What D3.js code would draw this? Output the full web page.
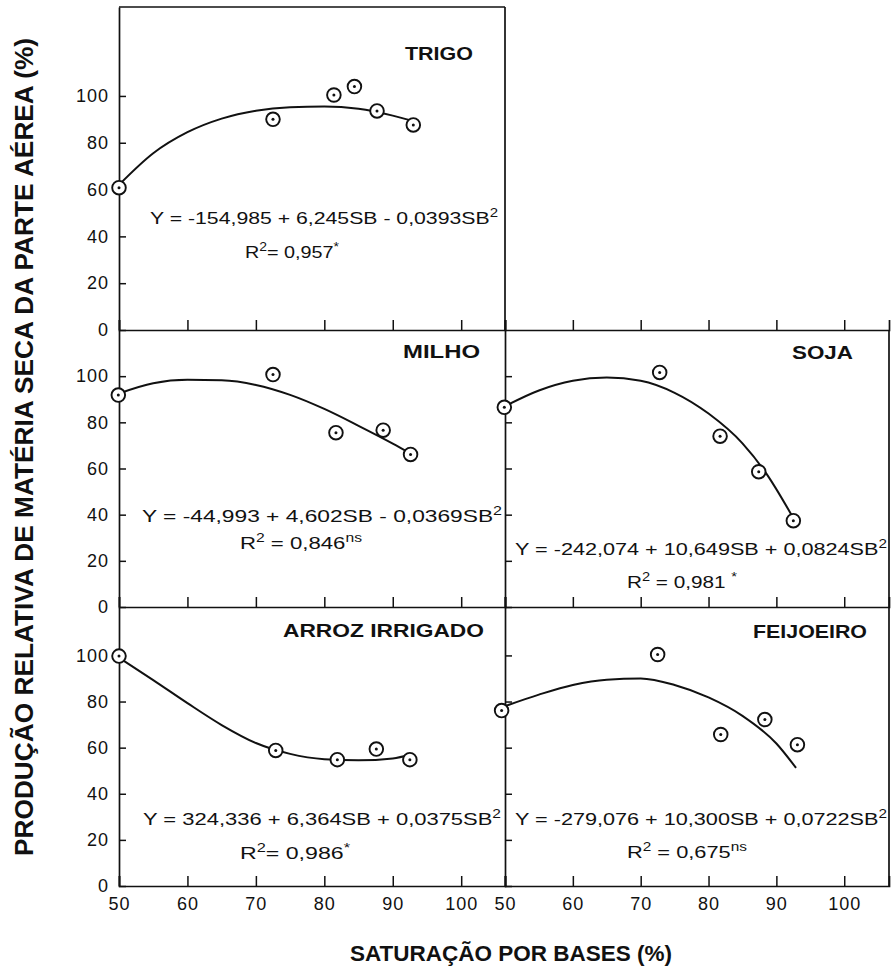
<!DOCTYPE html>
<html>
<head>
<meta charset="utf-8">
<script src="https://cdn.jsdelivr.net/npm/d3@7"></script>
<style>
  body { margin: 0; background: #fff; }
  svg { display: block; }
  text { font-family: "Liberation Sans", Arial, sans-serif; fill: #111; }
</style>
</head>
<body>
<svg id="chart" width="894" height="968"></svg>
<script>
// valores: saturação por bases (SB, %) e produção relativa (%)
const trigoSB = [50, 72.5, 81.4, 84.4, 87.7, 93.0]
const trigoY  = [60.8, 90.0, 100.4, 104.0, 93.6, 87.6]
const milhoSB = [49.9, 72.5, 81.7, 88.6, 92.6]
const milhoY  = [91.8, 100.7, 75.5, 76.6, 66.1]
const sojaSB  = [49.9, 72.8, 81.7, 87.4, 92.5]
const sojaY   = [86.5, 101.6, 74.0, 58.6, 37.4]
const arrozSB = [50, 72.9, 81.9, 87.6, 92.5]
const arrozY  = [99.7, 58.8, 54.8, 59.4, 54.8]
const feijSB  = [49.5, 72.5, 81.8, 88.3, 93.1]
const feijY   = [76.1, 100.4, 65.7, 72.2, 61.3]

const trigoFitSB = [50, 55, 60, 65, 70, 75, 80, 85, 90, 93]
const trigoFitY  = [62, 75.5, 84.5, 90.3, 93.7, 95.2, 95.5, 94.5, 91.6, 89.3]
const milhoFitSB = [50, 55, 60, 65, 70, 75, 80, 85, 90, 92.6]
const milhoFitY  = [92.5, 96.9, 98.4, 98.2, 96.2, 91.9, 85.8, 78.5, 70.8, 66.5]
const sojaFitSB  = [50, 55, 60, 65, 70, 75, 80, 85, 88.5, 92.5]
const sojaFitY   = [87, 93.8, 98, 99.4, 98, 92.8, 83.8, 70.9, 57.9, 38.5]
const arrozFitSB = [50, 55, 60, 65, 70, 75, 80, 85, 90, 92.6]
const arrozFitY  = [99, 89.3, 79.3, 69.8, 62, 57.3, 55, 54.5, 55.3, 57]
const feijFitSB  = [50, 55, 60, 65, 70, 75, 80, 85, 90, 92.9]
const feijFitY   = [78, 83, 87.2, 89.5, 90, 87.2, 81.8, 73.8, 61.8, 51.2]

const xTicks = [50, 60, 70, 80, 90, 100]
const yTicks = [0, 20, 40, 60, 80, 100]

const svg = d3.select('#chart')
const ink = '#111'

const xL = d3.scaleLinear().domain([50, 106.4]).range([119, 505])
const xR = d3.scaleLinear().domain([50, 106.6]).range([505, 889])
const yTop = d3.scaleLinear().domain([0, 138]).range([330, 7])
const yMid = d3.scaleLinear().domain([0, 120]).range([607, 330])
const yBot = d3.scaleLinear().domain([0, 121]).range([886, 607])

function styleAxis(g) {
  g.attr('font-family', null).attr('font-size', null)
  g.select('.domain').attr('stroke', ink).attr('stroke-width', 1.7)
  g.selectAll('.tick line').attr('stroke', ink).attr('stroke-width', 1.5)
  g.selectAll('.tick text').attr('fill', ink).style('font-size', '18px').style('letter-spacing', '1px')
}

function yAxis(scale, x, labels) {
  svg.append('g').attr('transform', `translate(${x},0)`)
    .call(d3.axisLeft(scale).tickValues(yTicks).tickSizeInner(-7).tickSizeOuter(0)
      .tickPadding(10).tickFormat(labels ? d3.format('d') : ''))
    .call(styleAxis)
}

function xAxis(scale, y, labels) {
  svg.append('g').attr('transform', `translate(0,${y})`)
    .call(d3.axisBottom(scale).tickValues(xTicks).tickSizeInner(-10).tickSizeOuter(-10)
      .tickPadding(11).tickFormat(labels ? d3.format('d') : ''))
    .call(styleAxis)
}

// moldura que sobra
const frame = [[119, 7, 505, 7], [505, 7, 505, 330], [889, 330, 889, 886]]
svg.selectAll('line.frame').data(frame).join('line').attr('class', 'frame')
  .attr('x1', d => d[0]).attr('y1', d => d[1]).attr('x2', d => d[2]).attr('y2', d => d[3])
  .attr('stroke', ink).attr('stroke-width', 1.7)

yAxis(yTop, 119, true)
yAxis(yMid, 119, true)
yAxis(yBot, 119, true)
yAxis(yMid, 505, false)
yAxis(yBot, 505, false)
xAxis(xL, 330, false); xAxis(xR, 330, false)
xAxis(xL, 607, false); xAxis(xR, 607, false)
xAxis(xL, 886, true);  xAxis(xR, 886, true)

const panels = [
  { title: 'TRIGO', sb: trigoSB, y: trigoY, fsb: trigoFitSB, fy: trigoFitY, x: xL, ys: yTop,
    tp: [405, 60, 68], eq: 'Y = -154,985 + 6,245SB - 0,0393SB', ep: [150, 224, 348],
    r2: [{ t: 'R' }, { t: '2', sup: 1 }, { t: '= 0,957' }, { t: '*', sup: 1 }], rp: [245, 258, 94] },
  { title: 'MILHO', sb: milhoSB, y: milhoY, fsb: milhoFitSB, fy: milhoFitY, x: xL, ys: yMid,
    tp: [403, 358, 77], eq: 'Y = -44,993 + 4,602SB - 0,0369SB', ep: [142, 522, 360],
    r2: [{ t: 'R' }, { t: '2', sup: 1 }, { t: ' = 0,846' }, { t: 'ns', sup: 1 }], rp: [240, 549, 122] },
  { title: 'SOJA', sb: sojaSB, y: sojaY, fsb: sojaFitSB, fy: sojaFitY, x: xR, ys: yMid,
    tp: [792, 359, 61], eq: 'Y = -242,074 + 10,649SB + 0,0824SB', ep: [515, 555, 372],
    r2: [{ t: 'R' }, { t: '2', sup: 1 }, { t: ' = 0,981 ' }, { t: '*', sup: 1 }], rp: [627, 588, 110] },
  { title: 'ARROZ IRRIGADO', sb: arrozSB, y: arrozY, fsb: arrozFitSB, fy: arrozFitY, x: xL, ys: yBot,
    tp: [283, 637, 201], eq: 'Y = 324,336 + 6,364SB + 0,0375SB', ep: [143, 825, 358],
    r2: [{ t: 'R' }, { t: '2', sup: 1 }, { t: '= 0,986' }, { t: '*', sup: 1 }], rp: [240, 859, 110] },
  { title: 'FEIJOEIRO', sb: feijSB, y: feijY, fsb: feijFitSB, fy: feijFitY, x: xR, ys: yBot,
    tp: [753, 638, 114], eq: 'Y = -279,076 + 10,300SB + 0,0722SB', ep: [515, 825, 372],
    r2: [{ t: 'R' }, { t: '2', sup: 1 }, { t: ' = 0,675' }, { t: 'ns', sup: 1 }], rp: [627, 858, 120] }
]

function richText(parts, pos, size) {
  const t = svg.append('text').attr('x', pos[0]).attr('y', pos[1])
    .attr('textLength', pos[2]).attr('lengthAdjust', 'spacingAndGlyphs')
    .style('font-size', size + 'px')
  let up = false
  parts.forEach(p => {
    const s = t.append('tspan').text(p.t)
    if (p.sup && !up) { s.attr('dy', -7); up = true }
    else if (!p.sup && up) { s.attr('dy', 7); up = false }
    if (p.sup) s.style('font-size', '12px')
  })
}

panels.forEach(p => {
  const line = d3.line().x(d => p.x(d[0])).y(d => p.ys(d[1])).curve(d3.curveMonotoneX)
  svg.append('path').datum(d3.zip(p.fsb, p.fy)).attr('d', line)
    .attr('fill', 'none').attr('stroke', ink).attr('stroke-width', 2)

  const pts = svg.append('g').selectAll('g').data(d3.zip(p.sb, p.y)).join('g')
    .attr('transform', d => `translate(${p.x(d[0])},${p.ys(d[1])})`)
  pts.append('circle').attr('r', 6.8).attr('fill', '#fff').attr('stroke', ink).attr('stroke-width', 1.9)
  pts.append('circle').attr('r', 1.5).attr('fill', ink)

  svg.append('text').attr('x', p.tp[0]).attr('y', p.tp[1])
    .attr('textLength', p.tp[2]).attr('lengthAdjust', 'spacingAndGlyphs')
    .style('font-size', '19px').style('font-weight', 'bold').text(p.title)

  richText([{ t: p.eq }, { t: '2', sup: 1 }], p.ep, 17)
  richText(p.r2, p.rp, 17)
})

// títulos dos eixos
svg.append('text').attr('transform', 'translate(33,856) rotate(-90)')
  .attr('textLength', 818).attr('lengthAdjust', 'spacingAndGlyphs')
  .style('font-size', '26px').style('font-weight', 'bold')
  .text('PRODUÇÃO RELATIVA DE MATÉRIA SECA DA PARTE AÉREA (%)')

svg.append('text').attr('x', 350).attr('y', 961)
  .attr('textLength', 322).attr('lengthAdjust', 'spacingAndGlyphs')
  .style('font-size', '22px').style('font-weight', 'bold')
  .text('SATURAÇÃO POR BASES (%)')
</script>
</body>
</html>
